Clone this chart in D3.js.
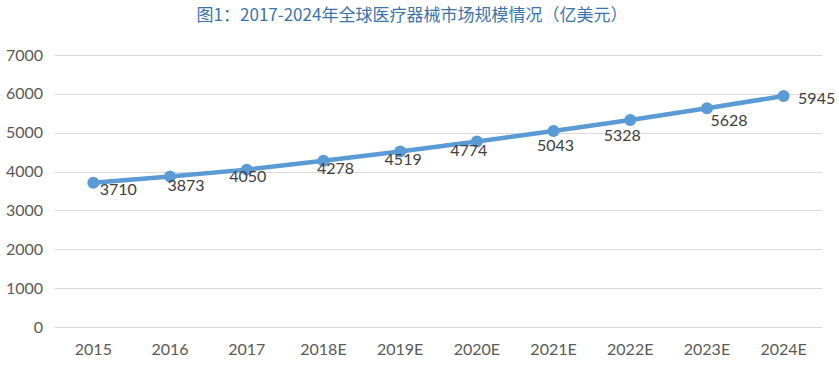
<!DOCTYPE html>
<html>
<head>
    <meta charset="utf-8">
    <title></title>
    <style>
        body { margin: 0; background: #fff; }
    </style>
</head>
<body>
<div id="container"></div>

<script src="https://d3js.org/d3.v7.min.js" type="text/javascript"></script>
<script type="text/javascript">
    // data
    const years = ['2015', '2016', '2017', '2018E', '2019E', '2020E', '2021E', '2022E', '2023E', '2024E'];
    const values = [3710, 3873, 4050, 4278, 4519, 4774, 5043, 5328, 5628, 5945];
    const yTicks = [0, 1000, 2000, 3000, 4000, 5000, 6000, 7000];
    const title = '图1：2017-2024年全球医疗器械市场规模情况（亿美元）';

    // label nudges (px) relative to each point
    const labelDx = [25, 16, 1, 12, 3, -8, 2, -8, 22, 33];
    const labelDy = [7, 9, 7, 8, 8, 9, 14, 15, 12, 2];

    let w = 839;
    let h = 368;
    const margin = { top: 55, left: 55, right: 17, bottom: 41 };

    const svg = d3.select('#container')
        .append('svg')
        .attr('width', w)
        .attr('height', h);

    svg.append('text')
        .attr('x', 412)
        .attr('y', 21)
        .attr('text-anchor', 'middle')
        .style('font-family', '"Noto Sans CJK SC", sans-serif')
        .style('font-size', '17px')
        .style('fill', '#3b73ad')
        .text(title);

    let x = d3.scaleBand().domain(years).range([margin.left, w - margin.right]);
    let y = d3.scaleLinear().domain([0, 7000]).range([h - margin.bottom, margin.top]);

    const font = 'Lato, "Open Sans", sans-serif';

    // grid
    svg.append('g')
        .selectAll('line')
        .data(yTicks)
        .join('line')
        .attr('x1', margin.left)
        .attr('x2', w - margin.right)
        .attr('y1', d => Math.round(y(d)) + 0.5)
        .attr('y2', d => Math.round(y(d)) + 0.5)
        .style('stroke', '#d9d9d9')
        .style('stroke-width', 1);

    // y axis
    let yAxis = d3.axisLeft(y).tickValues(yTicks).tickFormat(d3.format('d')).tickSize(0).tickPadding(12);
    let gy = svg.append('g')
        .attr('transform', `translate(${margin.left}, 0)`)
        .call(yAxis);
    gy.select('.domain').remove();
    gy.selectAll('text')
        .style('font-family', font)
        .style('font-size', '16px')
        .style('fill', '#595959');

    // x axis
    let xAxis = d3.axisBottom(x).tickSize(0).tickPadding(17);
    let gx = svg.append('g')
        .attr('transform', `translate(0, ${y(0)})`)
        .call(xAxis);
    gx.select('.domain').remove();
    gx.selectAll('text')
        .style('font-family', font)
        .style('font-size', '16px')
        .style('fill', '#595959');

    const cx = (d, i) => x(years[i]) + x.bandwidth() / 2;

    const line = d3.line()
        .x((d, i) => cx(d, i))
        .y(d => y(d));

    svg.append('path')
        .datum(values)
        .attr('d', line)
        .style('fill', 'none')
        .style('stroke', '#5b9bd5')
        .style('stroke-width', 4.5)
        .style('stroke-linejoin', 'round');

    svg.append('g')
        .selectAll('circle')
        .data(values)
        .join('circle')
        .attr('cx', cx)
        .attr('cy', d => y(d))
        .attr('r', 6)
        .style('fill', '#5b9bd5');

    svg.append('g')
        .selectAll('text')
        .data(values)
        .join('text')
        .attr('x', (d, i) => cx(d, i) + labelDx[i])
        .attr('y', (d, i) => y(d) + labelDy[i])
        .attr('dy', '0.35em')
        .attr('text-anchor', 'middle')
        .style('font-family', font)
        .style('font-size', '16px')
        .style('fill', '#404040')
        .text(d => d);
</script>
</body>
</html>
